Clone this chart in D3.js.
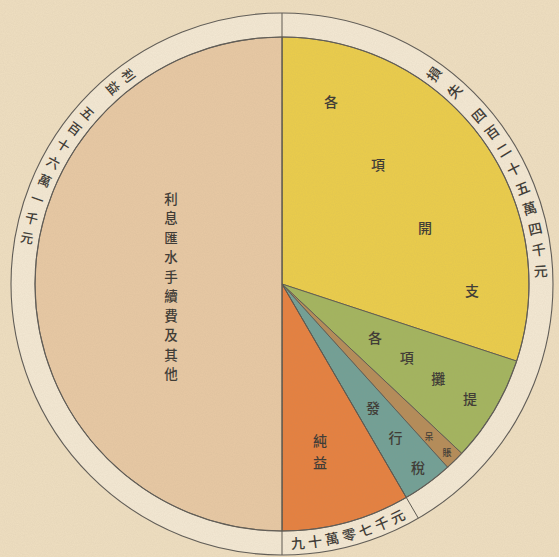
<!DOCTYPE html>
<html><head><meta charset="utf-8">
<script src="https://cdn.jsdelivr.net/npm/d3@7"></script>
<style>html,body{margin:0;padding:0;background:#efdfc1;}svg{display:block;}</style>
</head><body>
<svg id="c" width="559" height="557"></svg>
<script>
// ---- data ----
const categories = ["各項開支", "各項攤提", "呆賬", "發行稅", "純益", "利息匯水手續費及其他"];
const values = [3102000, 720000, 132000, 341000, 866000, 5161000];
const colors = ["#ebcd4a", "#a3b55e", "#b58c58", "#71a096", "#e6803f", "#e8c9a4"];
const ringTexts = ["利益", "五百十六萬一千元", "損失", "四百二十五萬四千元", "九十萬零七千元"];

// ---- layout ----
const W = 559, H = 557, cx = 282, cy = 284, R = 247, Ro = 271, Rm = 259;
const svg = d3.select("#c");
const font = "'Noto Sans CJK TC','Noto Sans CJK SC',sans-serif";
const ink = "#3b3833";

// paper texture
const defs = svg.append("defs");
const f = defs.append("filter").attr("id", "paper").attr("x", 0).attr("y", 0).attr("width", "100%").attr("height", "100%");
f.append("feTurbulence").attr("type", "fractalNoise").attr("baseFrequency", 0.9).attr("numOctaves", 2).attr("seed", 3);
f.append("feColorMatrix").attr("type", "matrix").attr("values", "0 0 0 0 0.35  0 0 0 0 0.28  0 0 0 0 0.2  0 0 0 0.12 0");

svg.append("rect").attr("width", W).attr("height", H).attr("fill", "#efdfc1");

const g = svg.append("g").attr("transform", `translate(${cx},${cy})`);

// ring
g.append("path")
  .attr("d", d3.arc().innerRadius(R).outerRadius(Ro)({startAngle: 0, endAngle: 2 * Math.PI}))
  .attr("fill", "#f4e9d4");
g.append("circle").attr("r", Ro).attr("fill", "none").attr("stroke", "#5d5a55").attr("stroke-width", 1.1);

// pie
const pie = d3.pie().sort(null).value(d => d)(values);
const arc = d3.arc().innerRadius(0).outerRadius(R);
g.selectAll("path.slice").data(pie).join("path")
  .attr("class", "slice")
  .attr("d", arc)
  .attr("fill", (d, i) => colors[i])
  .attr("stroke", "#5a574f").attr("stroke-width", 0.9);
g.append("circle").attr("r", R).attr("fill", "none").attr("stroke", "#5d5a55").attr("stroke-width", 1.1);

// divider lines extending through ring
const polar = (a, r) => [r * Math.sin(a), -r * Math.cos(a)];
[pie[0].startAngle, pie[4].startAngle, pie[5].startAngle].forEach(a => {
  const p = polar(a, Ro);
  g.append("line").attr("x1", 0).attr("y1", 0).attr("x2", p[0]).attr("y2", p[1])
    .attr("stroke", "#5a574f").attr("stroke-width", 1);
});

// slice labels: characters evenly spaced between two offsets from centre
const sliceLabelLayout = [
  {i: 0, from: [49, -183], to: [190, 6], size: 14},
  {i: 1, from: [93, 53], to: [188, 114], size: 14},
  {i: 2, from: [147, 152], to: [165, 168], size: 9},
  {i: 3, from: [91, 123], to: [136, 183], size: 14},
  {i: 4, from: [38, 156], to: [38, 178], size: 14},
  {i: 5, from: [-111, -86], to: [-111, 89], size: 13.5}
];
sliceLabelLayout.forEach(L => {
  const chars = Array.from(categories[L.i]);
  const n = chars.length;
  chars.forEach((ch, k) => {
    const t = n > 1 ? k / (n - 1) : 0;
    g.append("text")
      .attr("x", L.from[0] + (L.to[0] - L.from[0]) * t)
      .attr("y", L.from[1] + (L.to[1] - L.from[1]) * t)
      .attr("text-anchor", "middle").attr("dominant-baseline", "central")
      .attr("font-family", font).attr("font-size", L.size).attr("font-weight", 500)
      .attr("fill", ink).text(ch);
  });
});

// ring labels: start angle (deg), step (deg), rotation mode
const ringLayout = [
  {i: 0, start: -36.3, step: -4.3, mode: "ccw", size: 13},
  {i: 1, start: -48.6, step: -4.43, mode: "ccw", size: 13},
  {i: 2, start: 35.8, step: 5.9, mode: "cw", size: 14},
  {i: 3, start: 49.3, step: 4.71, mode: "cw", size: 14},
  {i: 4, start: 176.5, step: -3.82, mode: "bottom", size: 14}
];
ringLayout.forEach(L => {
  Array.from(ringTexts[L.i]).forEach((ch, k) => {
    const deg = L.start + L.step * k;
    const a = deg * Math.PI / 180;
    const p = polar(a, Rm);
    let rot = L.mode === "ccw" ? deg + 90 : L.mode === "cw" ? deg - 90 : deg - 180;
    g.append("text")
      .attr("transform", `translate(${p[0]},${p[1]}) rotate(${rot})`)
      .attr("text-anchor", "middle").attr("dominant-baseline", "central")
      .attr("font-family", font).attr("font-size", L.size).attr("font-weight", 500)
      .attr("fill", ink).text(ch);
  });
});

svg.append("rect").attr("width", W).attr("height", H).attr("filter", "url(#paper)").attr("pointer-events", "none");
</script>
</body></html>
